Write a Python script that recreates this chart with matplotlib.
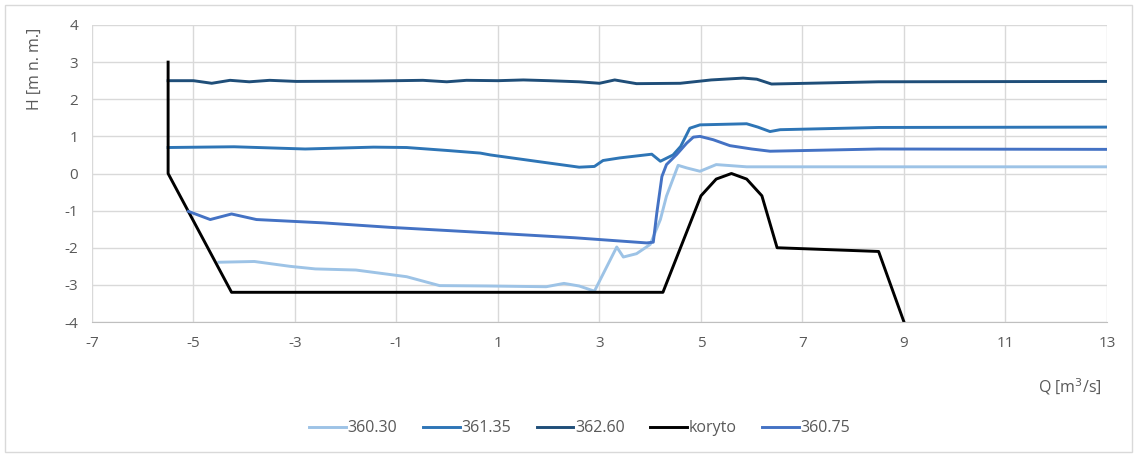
import matplotlib.pyplot as plt
from matplotlib.patches import Rectangle

plt.rcParams['font.family'] = ['Open Sans', 'DejaVu Sans']
plt.rcParams['axes.unicode_minus'] = False

# koryto (channel bed)
koryto_x = [-5.5, -5.5, -4.25, 4.25, 5.0, 5.3, 5.6, 5.9, 6.2, 6.5, 8.5, 9.0]
koryto_h = [3.0, 0.0, -3.2, -3.2, -0.6, -0.15, 0.0, -0.15, -0.6, -2.0, -2.1, -4.0]

# water levels
h3030_x = [-4.5, -3.8, -3.1, -2.6, -1.8, -0.8, -0.15, 0.8, 1.95, 2.3, 2.6, 2.9,
           3.34, 3.47, 3.73, 4.0, 4.2, 4.32, 4.55, 4.72, 4.98, 5.3, 5.9, 8.0, 13.0]
h3030_h = [-2.39, -2.37, -2.5, -2.57, -2.6, -2.78, -3.02, -3.03, -3.05, -2.96, -3.03, -3.17,
           -1.98, -2.25, -2.16, -1.91, -1.24, -0.61, 0.22, 0.15, 0.06, 0.24, 0.18, 0.18, 0.18]

h3135_x = [-5.5, -4.2, -2.8, -1.45, -0.8, 0.0, 0.65, 0.85, 1.8, 2.6, 2.9, 3.07, 3.4, 4.03,
           4.2, 4.45, 4.6, 4.78, 4.98, 5.9, 6.12, 6.36, 6.56, 8.5, 13.0]
h3135_h = [0.7, 0.72, 0.66, 0.71, 0.70, 0.62, 0.55, 0.50, 0.32, 0.17, 0.19, 0.35, 0.42, 0.52,
           0.33, 0.50, 0.73, 1.22, 1.31, 1.34, 1.25, 1.13, 1.18, 1.24, 1.25]

h3260_x = [-5.5, -5.0, -4.64, -4.28, -3.9, -3.5, -2.97, -1.5, -0.48, -0.01, 0.38, 1.0, 1.5,
           2.0, 2.6, 3.0, 3.3, 3.73, 4.59, 5.2, 5.83, 6.1, 6.39, 8.5, 13.0]
h3260_h = [2.50, 2.50, 2.43, 2.51, 2.47, 2.51, 2.48, 2.49, 2.51, 2.47, 2.51, 2.50, 2.52,
           2.50, 2.47, 2.43, 2.52, 2.42, 2.43, 2.52, 2.57, 2.54, 2.41, 2.47, 2.48]

h3075_x = [-5.1, -4.67, -4.25, -3.76, -2.44, -1.13, 0.84, 2.5, 3.93, 4.06, 4.13, 4.23,
           4.32, 4.52, 4.72, 4.85, 4.98, 5.24, 5.57, 6.0, 6.36, 8.5, 13.0]
h3075_h = [-1.02, -1.24, -1.09, -1.24, -1.33, -1.45, -1.6, -1.73, -1.87, -1.85, -1.06, -0.08,
           0.24, 0.51, 0.82, 0.98, 1.0, 0.91, 0.75, 0.66, 0.6, 0.66, 0.65]

fig = plt.figure(figsize=(11.37, 4.57), dpi=100)
ax = fig.add_axes([0.0809, 0.2954, 0.8927, 0.6499])

ax.plot(h3030_x, h3030_h, color='#9DC3E6', lw=2.1, label='360.30')
ax.plot(h3135_x, h3135_h, color='#2E75B6', lw=2.1, label='361.35')
ax.plot(h3260_x, h3260_h, color='#1F4E79', lw=2.1, label='362.60')
ax.plot(koryto_x, koryto_h, color='black', lw=2.1, label='koryto')
ax.plot(h3075_x, h3075_h, color='#4472C4', lw=2.1, label='360.75')

ax.set_xlim(-7, 13)
ax.set_ylim(-4, 4)
ax.set_xticks(range(-7, 14, 2))
ax.set_yticks(range(-4, 5))
ax.grid(True, color='#D9D9D9', lw=1)
ax.set_axisbelow(True)
for s in ['top', 'right', 'left']:
    ax.spines[s].set_visible(False)
ax.spines['bottom'].set_color('#BFBFBF')
ax.tick_params(length=0, colors='#595959', labelsize=11, pad=10)

fig.text(0.941, 0.155, 'Q [m$^3$/s]', color='#595959', fontsize=11.5, ha='center', va='center')
fig.text(0.031, 0.85, 'H [m n. m.]', color='#595959', fontsize=11.5, rotation=90,
         ha='center', va='center')

fig.legend(loc='center', bbox_to_anchor=(0.51, 0.063), ncol=5, frameon=False,
           fontsize=11.5, handlelength=2.3, handletextpad=0.1, columnspacing=1.6,
           labelcolor='#595959')

fig.patches.append(Rectangle((0.004, 0.01), 0.992, 0.98, transform=fig.transFigure,
                             fill=False, edgecolor='#D9D9D9', lw=1))

fig.savefig('out.png', dpi=100)
